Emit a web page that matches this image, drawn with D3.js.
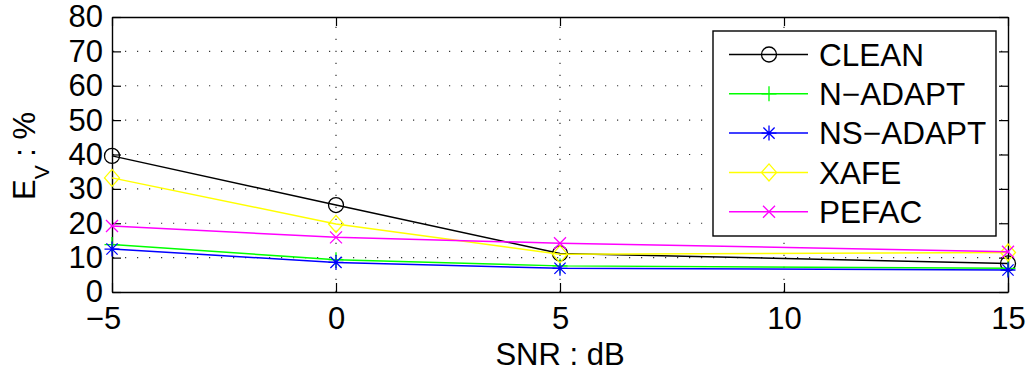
<!DOCTYPE html>
<html>
<head>
<meta charset="utf-8">
<script src="https://cdn.jsdelivr.net/npm/d3@7"></script>
<style>
  body { margin: 0; background: #fff; }
  text { font-family: "Liberation Sans", Arial, sans-serif; fill: #000; }
</style>
</head>
<body>
<div id="chart"></div>
<script>
const snr = [-5, 0, 5, 15];
const xTicks = [-5, 0, 5, 10, 15];
const yTicks = [0, 10, 20, 30, 40, 50, 60, 70, 80];

const seriesNames = ["CLEAN", "N\u2212ADAPT", "NS\u2212ADAPT", "XAFE", "PEFAC"];
const clean = [39.6, 25.3, 11.2, 8.3];
const nAdapt = [13.8, 9.4, 7.6, 6.9];
const nsAdapt = [12.5, 8.6, 6.9, 6.4];
const xafe = [33.2, 19.8, 11.0, 11.5];
const pefac = [19.2, 15.9, 14.2, 11.7];

const seriesValues = [clean, nAdapt, nsAdapt, xafe, pefac];
const seriesColors = ["#000000", "#00ff00", "#0000ff", "#ffff00", "#ff00ff"];
const seriesMarkers = ["circle", "plus", "star", "diamond", "cross"];

const width = 1032, height = 376;
const margin = { left: 112, right: 24, top: 17, bottom: 84 };
const innerW = width - margin.left - margin.right;
const innerH = height - margin.top - margin.bottom;

const svg = d3.select("#chart").append("svg")
  .attr("width", width)
  .attr("height", height);

const chart = svg.append("g")
  .attr("transform", `translate(${margin.left},${margin.top})`);

const x = d3.scaleLinear().domain([-5, 15]).range([0, innerW]);
const y = d3.scaleLinear().domain([0, 80]).range([innerH, 0]);

// dotted grid
chart.append("g").selectAll("line")
  .data(xTicks.filter(d => d > -5 && d < 15))
  .join("line")
  .attr("x1", d => x(d)).attr("x2", d => x(d))
  .attr("y1", innerH).attr("y2", 0)
  .attr("stroke", "#333").attr("stroke-width", 1.2)
  .attr("stroke-dasharray", "1.2,10.8");

chart.append("g").selectAll("line")
  .data(yTicks.filter(d => d > 0 && d < 80))
  .join("line")
  .attr("x1", 0).attr("x2", innerW)
  .attr("y1", d => y(d)).attr("y2", d => y(d))
  .attr("stroke", "#333").attr("stroke-width", 1.2)
  .attr("stroke-dasharray", "1.2,10.8")
  .attr("stroke-dashoffset", -1);

// axes with inward ticks on all sides
const tickLen = 9;
chart.append("g")
  .attr("transform", `translate(0,${innerH})`)
  .call(d3.axisBottom(x).tickValues(xTicks).tickSizeInner(-tickLen).tickSizeOuter(0)
    .tickPadding(15).tickFormat(d => d < 0 ? "\u2212" + Math.abs(d) : d))
  .call(g => g.selectAll("text").attr("font-size", 31).attr("dy", "0.71em")
    .attr("dx", d => d < 0 ? -9 : 0));

chart.append("g")
  .call(d3.axisTop(x).tickValues(xTicks).tickSizeInner(-tickLen).tickSizeOuter(0).tickFormat(""));

chart.append("g")
  .call(d3.axisLeft(y).tickValues(yTicks).tickSizeInner(-tickLen).tickSizeOuter(0).tickPadding(9))
  .call(g => g.selectAll("text").attr("font-size", 31));

chart.append("g")
  .attr("transform", `translate(${innerW},0)`)
  .call(d3.axisRight(y).tickValues(yTicks).tickSizeInner(-tickLen).tickSizeOuter(0).tickFormat(""));

chart.selectAll(".domain").attr("stroke", "#000").attr("stroke-width", 1.4);
chart.selectAll(".tick line").attr("stroke", "#000").attr("stroke-width", 1.2);

// marker drawing
function drawMarker(g, type, color) {
  const s = 7.5;
  if (type === "circle") {
    g.append("circle").attr("r", s).attr("fill", "none").attr("stroke", color).attr("stroke-width", 1.3);
  } else if (type === "diamond") {
    g.append("path").attr("d", `M0,${-s - 1}L${s},0L0,${s + 1}L${-s},0Z`)
      .attr("fill", "none").attr("stroke", color).attr("stroke-width", 1.3);
  } else if (type === "plus") {
    g.append("path").attr("d", `M${-s},0H${s}M0,${-s}V${s}`)
      .attr("stroke", color).attr("stroke-width", 1.3);
  } else if (type === "cross") {
    const c = s * 0.8;
    g.append("path").attr("d", `M${-c},${-c}L${c},${c}M${-c},${c}L${c},${-c}`)
      .attr("stroke", color).attr("stroke-width", 1.3);
  } else if (type === "star") {
    const c = s * 0.75;
    g.append("path").attr("d", `M${-s},0H${s}M0,${-s}V${s}M${-c},${-c}L${c},${c}M${-c},${c}L${c},${-c}`)
      .attr("stroke", color).attr("stroke-width", 1.3);
  }
}

const line = d3.line()
  .x((d, i) => x(snr[i]))
  .y(d => y(d));

seriesValues.forEach((vals, k) => {
  const g = chart.append("g").attr("class", "series");
  g.append("path")
    .attr("d", line(vals))
    .attr("fill", "none")
    .attr("stroke", seriesColors[k])
    .attr("stroke-width", 1.5);
  vals.forEach((v, i) => {
    const m = g.append("g").attr("transform", `translate(${x(snr[i])},${y(v)})`);
    drawMarker(m, seriesMarkers[k], seriesColors[k]);
  });
});

// legend
const legend = svg.append("g").attr("transform", "translate(713,31)");
legend.append("rect")
  .attr("width", 283).attr("height", 205)
  .attr("fill", "#fff").attr("stroke", "#000").attr("stroke-width", 1.4);

seriesNames.forEach((name, k) => {
  const row = legend.append("g").attr("transform", `translate(0,${23.5 + k * 39.3})`);
  row.append("line").attr("x1", 16).attr("x2", 95)
    .attr("stroke", seriesColors[k]).attr("stroke-width", 1.5);
  const m = row.append("g").attr("transform", "translate(56,0)");
  drawMarker(m, seriesMarkers[k], seriesColors[k]);
  row.append("text").attr("x", 106).attr("dy", "0.36em")
    .attr("font-size", 31.5).text(name);
});

// axis titles
svg.append("text")
  .attr("x", margin.left + innerW / 2).attr("y", 365)
  .attr("text-anchor", "middle").attr("font-size", 31)
  .text("SNR : dB");

const yTitle = svg.append("text")
  .attr("transform", "translate(35,156) rotate(-90)")
  .attr("text-anchor", "middle").attr("font-size", 31);
yTitle.append("tspan").text("E");
yTitle.append("tspan").attr("font-size", 21).attr("dy", 14).text("V");
yTitle.append("tspan").attr("dy", -14).text(" : %");
</script>
</body>
</html>
